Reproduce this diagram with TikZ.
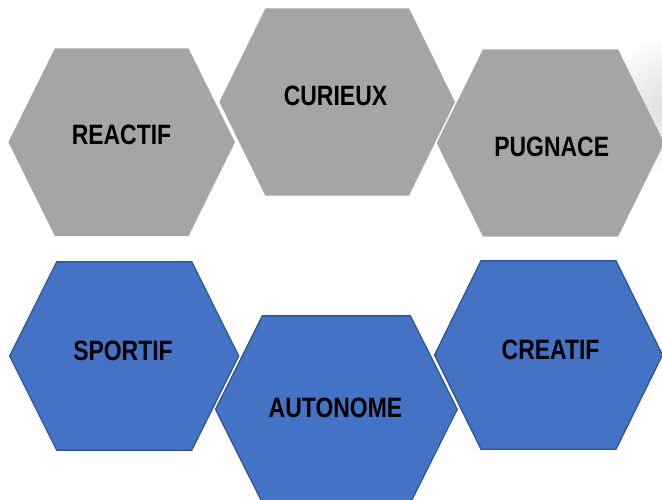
\documentclass[tikz,border=0pt]{standalone}
\usepackage{fontspec}
\setmainfont{Liberation Sans}
\newfontfamily\hexfont[FakeStretch=0.82]{Liberation Sans}
\usepackage{tikz}
\usetikzlibrary{positioning}
\definecolor{hexgray}{HTML}{A5A5A5}
\definecolor{hexblue}{HTML}{4472C4}
\definecolor{hexline}{HTML}{2F528F}
\tikzset{grayhex/.style = {fill = hexgray}}
\tikzset{bluehex/.style = {fill = hexblue, draw = hexline, line width = 1.2}}
\tikzset{word/.style = {font = \hexfont\bfseries\fontsize{28}{30}\selectfont,
                        inner sep = 0}}
% style, centre x, centre y, half top edge, half width, half height
\newcommand{\hexcell}[6]{%
  \path [#1] ({#2-#4}, {#3-#6}) -- ({#2+#4}, {#3-#6}) -- ({#2+#5}, #3)
             -- ({#2+#4}, {#3+#6}) -- ({#2-#4}, {#3+#6}) -- ({#2-#5}, #3)
             -- cycle;}

\begin{document}
\begin{tikzpicture}[x=1pt, y=-1pt]
  \useasboundingbox (0, 0) rectangle (662, 499);
  \shade [inner color=black!13, outer color=white] (668, 105) circle [radius=70];
  \hexcell{grayhex}{121.7}{142.2}{66.8}{113.3}{93.9}
  \hexcell{grayhex}{337.2}{102}{71.8}{117.8}{93.7}
  \hexcell{grayhex}{550.5}{143}{67.5}{113.8}{93.7}
  \hexcell{bluehex}{124.2}{356}{67.5}{114.6}{94.3}
  \hexcell{bluehex}{336.4}{409.3}{74}{120.9}{93.6}
  \hexcell{bluehex}{548.5}{355}{67.5}{114}{94.3}
  \node [word] (reactif) at (121.5, 135.3) {REACTIF};
  \node [word] (curieux) at (335.5, 96) {CURIEUX};
  \node [word] (pugnace) at (551.7, 146.7) {PUGNACE};
  \node [word] (sportif) at (123, 351) {SPORTIF};
  \node [word] (autonome) at (335.5, 407.5) {AUTONOME};
  \node [word] (creatif) at (550.6, 350) {CREATIF};
\end{tikzpicture}
\end{document}
